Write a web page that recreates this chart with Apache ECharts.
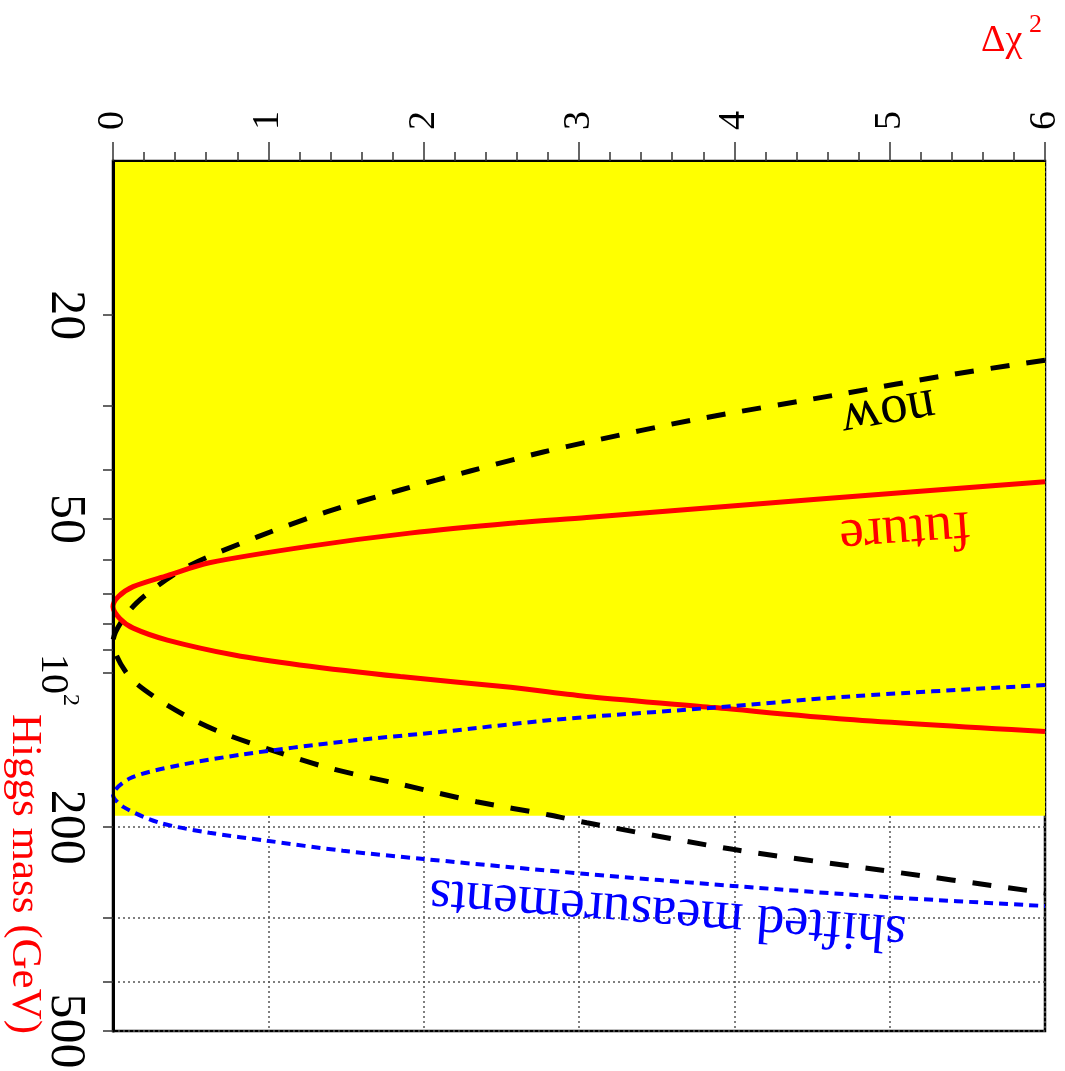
<!DOCTYPE html>
<html><head><meta charset="utf-8">
<script src="https://cdn.jsdelivr.net/npm/echarts@6/dist/echarts.min.js"></script>
<style>html,body{margin:0;padding:0;background:#fff}#c{width:1065px;height:1071px}</style>
</head><body><div id="c"></div>
<script>
// ---- data (Δχ² vs Higgs mass in GeV) ----
const xTickLabels = ['0','1','2','3','4','5','6'];
const yTickValues = [20,30,40,50,60,70,80,90,100,200,300,400,500];
const yLabelValues = [20,50,100,200,500];
const bandMass = [10, 190];

const nowChi2 = [6.0, 5.37, 4.72, 3.72, 3.07, 2.77, 2.30, 1.85, 1.38, 0.93, 0.50, 0.28, 0.11, 0.0, 0.097, 0.28, 0.50, 0.71, 1.05, 1.40, 1.87, 2.34, 2.81, 3.05, 3.99, 4.94, 6.0];
const nowMass = [24.5, 26.2, 28.4, 32.1, 35.3, 37.0, 40.3, 43.9, 48.4, 54.2, 61.5, 67.8, 75.3, 87.0, 100.9, 112.0, 122.6, 131.1, 142.4, 153.5, 165.4, 178.3, 189.3, 196.0, 220.9, 242.4, 268.7];

const futureChi2 = [6.0, 4.51, 3.05, 2.56, 1.91, 1.27, 0.62, 0.35, 0.13, 0.035, 0.0, 0.045, 0.13, 0.35, 0.78, 1.20, 1.85, 2.56, 3.07, 3.87, 4.72, 6.0];
const futureMass = [42.3, 45.8, 49.7, 51.0, 53.3, 56.5, 60.9, 64.5, 67.8, 70.9, 74.2, 78.3, 81.7, 86.2, 92.2, 96.4, 101.6, 106.6, 111.2, 116.8, 123.1, 130.1];

const shiftedChi2 = [6.0, 4.72, 3.87, 3.07, 2.77, 2.13, 1.48, 0.84, 0.41, 0.11, 0.0, 0.066, 0.30, 0.62, 0.99, 1.48, 2.0, 2.56, 3.05, 3.99, 5.0, 6.0];
const shiftedMass = [105.5, 111.2, 116.8, 121.7, 123.9, 130.1, 136.1, 144.1, 151.7, 160.5, 173, 182.5, 196.0, 205.0, 212.5, 222.3, 230.7, 239.4, 246.8, 260.4, 274.0, 285.0];

const curveNames = ['now', 'future', 'shifted measurements'];
const labelAnchors = [[4.99, 30.9], [5.10, 52.8], [3.57, 294]];

const zip = (a, b) => a.map((v, i) => [v, b[i]]);
const FONT = 'Liberation Serif';

const chart = echarts.init(document.getElementById('c'), null, {renderer: 'canvas'});
chart.setOption({
  animation: false,
  backgroundColor: '#fff',
  textStyle: {fontFamily: FONT},
  grid: {left: 113, right: 20, top: 161, bottom: 40, show: true, borderColor: '#000', borderWidth: 2.5, backgroundColor: 'transparent', containLabel: false, outerBoundsMode: 'none'},
  xAxis: [
    {type: 'value', position: 'top', min: 0, max: 6, interval: 1, z: 5,
     axisLine: {show: true, onZero: false, lineStyle: {color: '#000', width: 2}},
     axisTick: {show: true, inside: false, length: 19, lineStyle: {color: '#333', width: 1.5}},
     minorTick: {show: true, splitNumber: 5, length: 9, lineStyle: {color: '#333', width: 1.5}},
     axisLabel: {show: true, rotate: -90, margin: 31, showMinLabel: true, showMaxLabel: true,
       fontFamily: FONT, fontSize: 38, color: '#000', formatter: v => xTickLabels[Math.round(v)]},
     splitLine: {show: false}, minorSplitLine: {show: false}},
    {type: 'value', position: 'top', min: 0, max: 6, interval: 1, z: 0,
     axisLine: {show: false}, axisTick: {show: false}, axisLabel: {show: false},
     splitLine: {show: true, lineStyle: {color: '#555', width: 1.5, type: [2, 3]}}}
  ],
  yAxis: [
    {type: 'log', logBase: 10, min: 10, max: 500, inverse: true, position: 'left', z: 5,
     axisLine: {show: true, onZero: false, lineStyle: {color: '#000', width: 3}},
     axisTick: {show: true, inside: false, length: 10, customValues: yTickValues, lineStyle: {color: '#333', width: 1.5}},
     axisLabel: {show: true, customValues: yLabelValues, rotate: -90, margin: 23,
       fontFamily: FONT, fontSize: 50, color: '#000',
       formatter: v => (Math.round(v) === 100 ? '{b|10}{s|2}' : '{n|' + Math.round(v) + '}'),
       rich: {
         n: {fontFamily: FONT, fontSize: 50, color: '#000', verticalAlign: 'top'},
         b: {fontFamily: FONT, fontSize: 40, color: '#000', verticalAlign: 'top', padding: [18, 0, 0, 14]},
         s: {fontFamily: FONT, fontSize: 24, color: '#000', verticalAlign: 'top', padding: [8, 0, 0, 0]}
       }},
     splitLine: {show: false}},
    {type: 'log', logBase: 10, min: 10, max: 500, inverse: true, position: 'left', z: 0,
     axisLine: {show: false}, axisTick: {show: false, customValues: yTickValues}, axisLabel: {show: false},
     splitLine: {show: true, lineStyle: {color: '#555', width: 1.5, type: [2, 3]}}}
  ],
  series: [
    {type: 'line', name: 'band', xAxisIndex: 0, yAxisIndex: 0, data: [], z: 1, silent: true,
     markArea: {silent: true, itemStyle: {color: '#ffff00', opacity: 1, borderWidth: 0},
       data: [[{yAxis: bandMass[0]}, {yAxis: bandMass[1]}]]}},
    {type: 'line', name: curveNames[0], xAxisIndex: 0, yAxisIndex: 0, data: zip(nowChi2, nowMass), z: 3,
     symbol: 'none', smooth: 0.3, lineStyle: {color: '#000', width: 5, type: [19, 17], cap: 'butt'}},
    {type: 'line', name: curveNames[1], xAxisIndex: 0, yAxisIndex: 0, data: zip(futureChi2, futureMass), z: 3,
     symbol: 'none', smooth: 0.3, lineStyle: {color: '#ff0000', width: 5}},
    {type: 'line', name: curveNames[2], xAxisIndex: 0, yAxisIndex: 0, data: zip(shiftedChi2, shiftedMass), z: 3,
     symbol: 'none', smooth: 0.3, lineStyle: {color: '#0000ff', width: 4, type: [9, 6], cap: 'butt'}}
  ]
});

const px = d => chart.convertToPixel({xAxisIndex: 0, yAxisIndex: 0}, d);
const deg = a => a * Math.PI / 180;
const mk = (text, pos, rot, color, size) => ({
  type: 'text', x: pos[0], y: pos[1], rotation: rot, z: 10, silent: true,
  style: {text: text, fill: color, font: size + 'px ' + FONT, align: 'center', verticalAlign: 'middle', textAlign: 'center', textVerticalAlign: 'middle'}
});
chart.setOption({
  graphic: [
    mk(curveNames[0], px(labelAnchors[0]), deg(190), '#000', 55),
    mk(curveNames[1], px(labelAnchors[1]), deg(184), '#ff0000', 55),
    mk(curveNames[2], px(labelAnchors[2]), deg(175.5), '#0000ff', 55),
    mk('Higgs mass (GeV)', [24, 874], deg(-90), '#ff0000', 43),
    {type: 'text', x: 981, y: 41, z: 10, style: {text: 'Δχ', fill: '#ff0000', font: '38px ' + FONT, align: 'left', verticalAlign: 'middle', textAlign: 'left', textVerticalAlign: 'middle'}},
    {type: 'text', x: 1029, y: 25, z: 10, style: {text: '2', fill: '#ff0000', font: '26px ' + FONT, align: 'left', verticalAlign: 'middle', textAlign: 'left', textVerticalAlign: 'middle'}}
  ]
});
</script>
</body></html>
